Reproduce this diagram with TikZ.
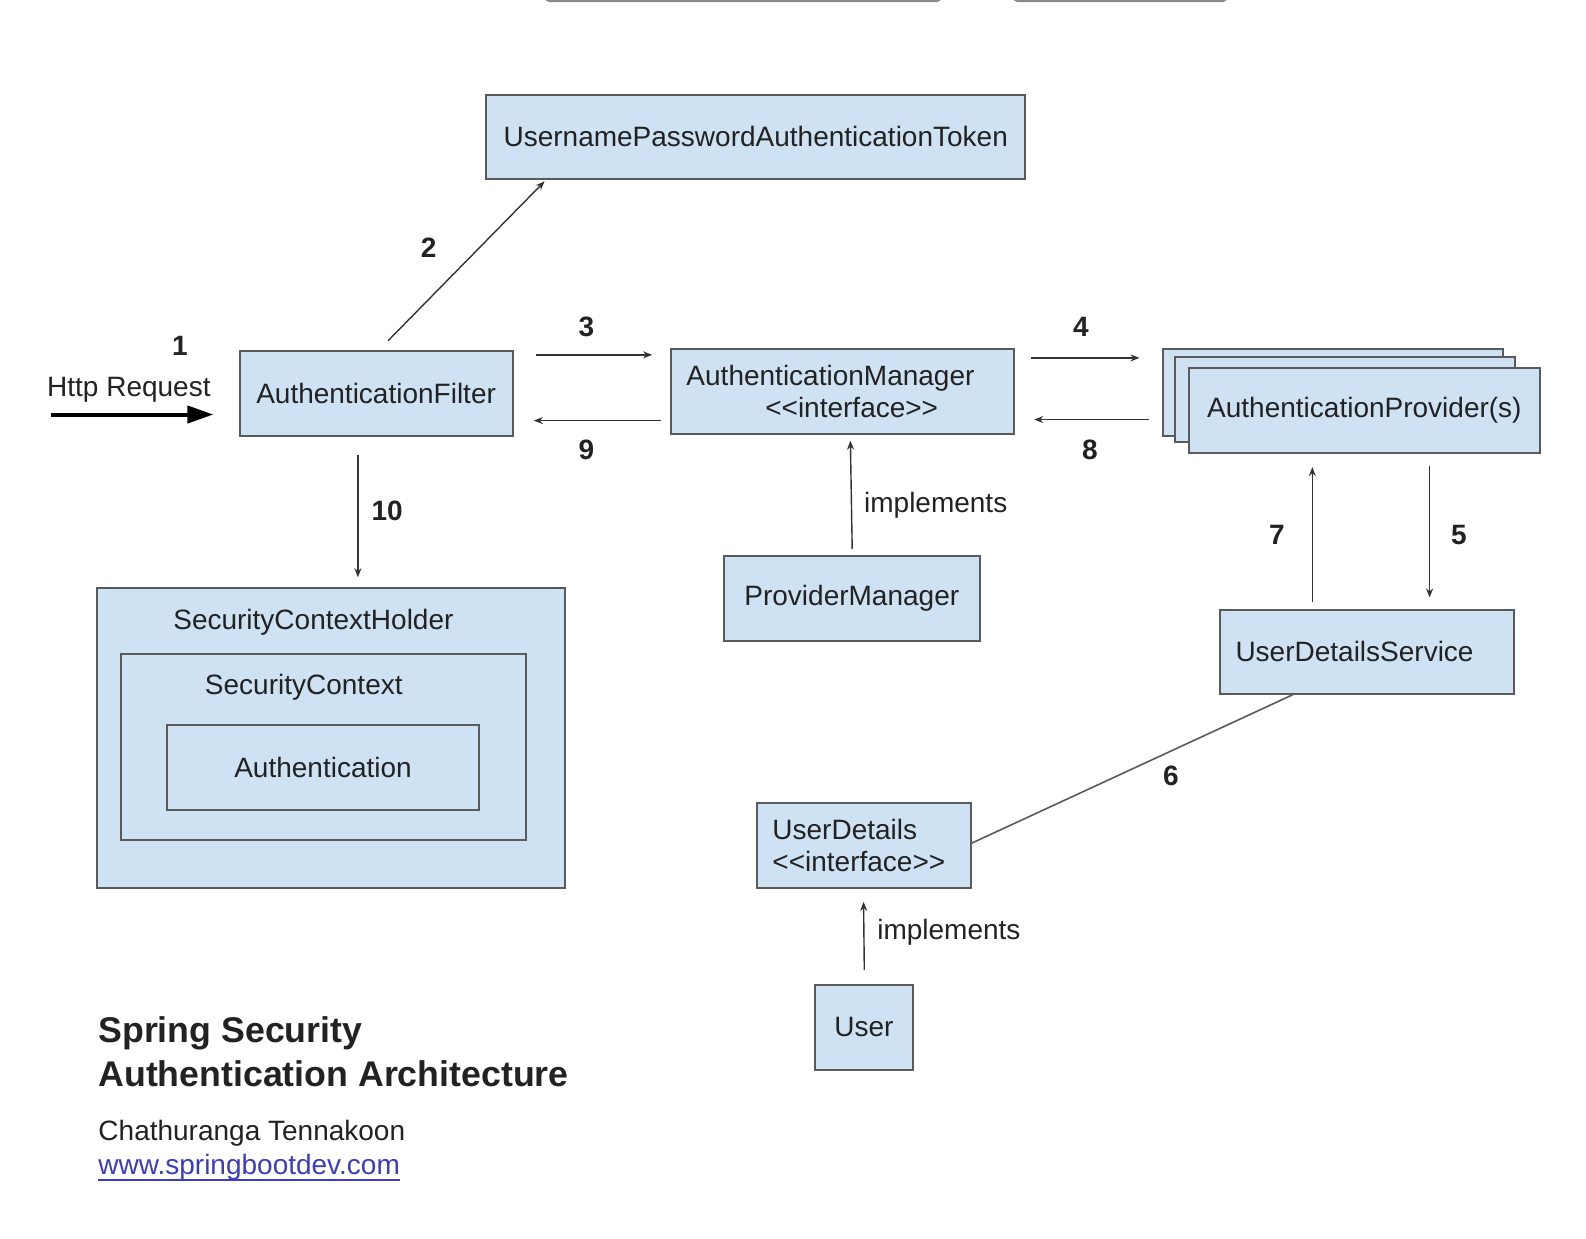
\documentclass[tikz,border=0pt]{standalone}
\usepackage{fontspec}
\setmainfont{Liberation Sans}
\usetikzlibrary{arrows.meta,calc}
\definecolor{boxfill}{HTML}{CFE2F3}
\definecolor{boxline}{HTML}{5A5A5A}
\definecolor{inkcol}{HTML}{222222}
\definecolor{linecol}{HTML}{333333}
\definecolor{linkblue}{HTML}{3C3CC0}
\newcommand\ifctext{<\kern0pt<interface>\kern0pt>}
\begin{document}
\begin{tikzpicture}[x=0.5055pt,y=-0.5055pt,
  every node/.style={text=inkcol, font=\fontsize{14}{17}\selectfont},
  box/.style={draw=boxline, fill=boxfill, line width=1pt, inner sep=0pt},
  sz/.style 2 args={minimum width=#1*0.5055pt, minimum height=#2*0.5055pt},
  num/.style={font=\fontsize{14}{17}\selectfont\bfseries, inner sep=0pt},
  lbl/.style={inner sep=0pt},
  arr/.style={draw=linecol, line width=0.7pt, -{Stealth[length=4.5pt,width=3.5pt]}},
  plainline/.style={draw=boxline, line width=0.8pt},
  bigarr/.style={draw=black, line width=2pt, -{Triangle[length=13pt,width=8.5pt]}}
]
\useasboundingbox (0,0) rectangle (1568.7,1224.5);
\fill[white] (0,0) rectangle (1568.7,1224.5);

% partial boxes at the top edge
\begin{scope}
\clip (0,0) rectangle (1568.7,1224.5);
\draw[boxline!70, line width=1.2pt, rounded corners=2pt] (540,-30) rectangle (930,1);
\draw[boxline!70, line width=1.2pt, rounded corners=2pt] (1003,-30) rectangle (1213,1);
\end{scope}

% boxes
\node[box, sz={533}{83}] (token) at (747.5,135.5) {UsernamePasswordAuthenticationToken};
\node[box, sz={270}{84}] (filter) at (372,389) {AuthenticationFilter};
\node[box, sz={339}{84}, text width=156.2pt, align=left,
      font=\fontsize{14}{16.2}\selectfont] (manager) at (833.5,387)
      {AuthenticationManager\\\hspace*{39.4pt}\ifctext};
\node[box, sz={337}{86}] (provback) at (1318.5,388) {};
\node[box, sz={336}{84}] (provmid) at (1330,395) {};
\node[box, sz={347}{84}] (prov) at (1349.5,406) {AuthenticationProvider(s)};
\node[box, sz={253}{84}] (pm) at (842.5,592) {ProviderManager};
\node[box, sz={290}{83}, text width=131.4pt, align=left] (uds) at (1352,644.5) {UserDetailsService};
\node[box, sz={211}{84}, text width=91.5pt, align=left,
      font=\fontsize{14}{16.2}\selectfont] (ud) at (854.5,836) {UserDetails\\\ifctext};
\node[box, sz={97}{84}] (user) at (854.5,1016) {User};

\node[box, sz={463}{296}] (holder) at (327.5,730) {};
\node[lbl] (holderlbl) at (310,615) {SecurityContextHolder};
\node[box, sz={400}{184}] (ctx) at (320,739) {};
\node[lbl] (ctxlbl) at (300.5,680) {SecurityContext};
\node[box, sz={309}{84}] (auth) at (319.5,759) {Authentication};

% http request
\coordinate (reqstart) at (50,410);
\draw[bigarr, shorten >=12.6pt] (reqstart) -- (filter.west |- reqstart);
\node[lbl] (httplbl) at (127.5,386) {Http Request};
\node[num] (n1) at (178,342) {1};

% 2
\draw[arr, shorten <=6.4pt, shorten >=1pt] (filter.north -| 375,0) -- (token.south -| 540,0);
\node[num] (n2) at (424,245) {2};
% 3 and 9
\draw[arr, shorten <=11.1pt, shorten >=9.1pt] (filter.east |- 0,351) -- (manager.west |- 0,351);
\node[num] (n3) at (580,323) {3};
\draw[arr, shorten <=4.5pt, shorten >=10.1pt] (manager.west |- 0,416) -- (filter.east |- 0,416);
\node[num] (n9) at (580,445) {9};
% 4 and 8
\draw[arr, shorten <=8.1pt, shorten >=11.1pt] (manager.east |- 0,354) -- (provback.west |- 0,354);
\node[num] (n4) at (1069,323) {4};
\draw[arr, shorten <=6.6pt, shorten >=9.6pt] (provback.west |- 0,415) -- (manager.east |- 0,415);
\node[num] (n8) at (1078,445) {8};
% 10
\draw[arr, shorten <=9.1pt, shorten >=5.1pt] (filter.south -| 354,0) -- (holder.north -| 354,0);
\node[num] (n10) at (383,505) {10};
% implements (ProviderManager)
\draw[arr, shorten <=3pt, shorten >=3pt] (pm.north -| 843,0) -- (manager.south -| 841,0);
\node[lbl] (impl1) at (925.5,500) {implements};
% 7 and 5
\draw[arr, shorten <=3.5pt, shorten >=6.6pt] (uds.north -| 1298,0) -- (prov.south -| 1298,0);
\node[num] (n7) at (1263,529) {7};
\draw[arr, shorten <=6pt, shorten >=5.6pt] (prov.south -| 1414,0) -- (uds.north -| 1414,0);
\node[num] (n5) at (1443,529) {5};
% 6
\draw[plainline] (uds.south -| 1279,0) -- (ud.east |- 0,834);
\node[num] (n6) at (1158,767) {6};
% implements (User)
\draw[arr, shorten <=7pt, shorten >=6.6pt] (user.north -| 855,0) -- (ud.south -| 854,0);
\node[lbl] (impl2) at (938.5,922) {implements};

% title and credits
\node[anchor=north west, inner sep=0pt, align=left,
      font=\fontsize{17.85}{22}\selectfont\bfseries] (title) at (97,1005)
      {Spring Security\\Authentication Architecture};
\node[anchor=base west, inner sep=0pt] (author) at (97,1128) {Chathuranga Tennakoon};
\node[anchor=base west, inner sep=0pt, text=linkblue] (link) at (97,1162) {www.springbootdev.com};
\draw[linkblue, line width=0.9pt] ($(link.base west)+(0,5)$) -- ($(link.base east)+(0,5)$);
\end{tikzpicture}
\end{document}
